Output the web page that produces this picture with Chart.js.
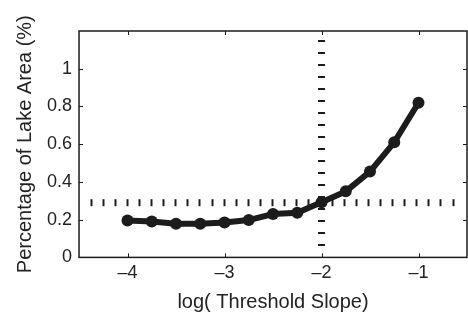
<!DOCTYPE html>
<html>
<head>
<meta charset="utf-8">
<script src="https://cdn.jsdelivr.net/npm/chart.js@4.4.1/dist/chart.umd.min.js"></script>
<style>
  html, body { margin: 0; padding: 0; background: #fff; }
  #wrap { width: 468px; height: 321px; position: relative; }
</style>
</head>
<body>
<div id="wrap"><canvas id="chart"></canvas></div>
<script>
// Data
const logSlope = [-4, -3.75, -3.5, -3.25, -3, -2.75, -2.5, -2.25, -2, -1.75, -1.5, -1.25, -1];
const lakeArea = [0.195, 0.19, 0.178, 0.178, 0.185, 0.198, 0.23, 0.237, 0.292, 0.35, 0.455, 0.61, 0.82];
const xTickValues = [-4, -3, -2, -1];
const yTickValues = [0, 0.2, 0.4, 0.6, 0.8, 1];
const thresholdSlope = -2;
const thresholdArea = 0.29;

const ink = "#1c1c1c";
const fontFamily = "Liberation Sans, Arial, Helvetica, sans-serif";

// Box, inward ticks and the two dashed reference lines (MATLAB style)
const framePlugin = {
    id: "frame",
    afterDatasetsDraw(chart) {
        const { ctx, chartArea: a, scales } = chart;
        const xs = scales.x, ys = scales.y;
        ctx.save();

        // reference lines
        ctx.strokeStyle = ink;
        ctx.lineWidth = 2;
        const hy = ys.getPixelForValue(thresholdArea);
        for (let px = a.left + 12; px < a.right - 6; px += 12.05) {
            ctx.beginPath();
            ctx.moveTo(Math.round(px) + 0.5, hy - 3.5);
            ctx.lineTo(Math.round(px) + 0.5, hy + 3.5);
            ctx.stroke();
        }
        const vx = xs.getPixelForValue(thresholdSlope);
        for (let py = a.bottom - 12; py > a.top + 6; py -= 12.05) {
            ctx.beginPath();
            ctx.moveTo(vx - 3.5, Math.round(py));
            ctx.lineTo(vx + 3.5, Math.round(py));
            ctx.stroke();
        }

        // box
        ctx.strokeStyle = ink;
        ctx.lineWidth = 1.5;
        ctx.strokeRect(a.left, a.top, a.right - a.left, a.bottom - a.top);

        // inward ticks
        ctx.lineWidth = 1;
        const len = 4;
        xTickValues.forEach(v => {
            const px = Math.round(xs.getPixelForValue(v)) + 0.5;
            ctx.beginPath();
            ctx.moveTo(px, a.bottom); ctx.lineTo(px, a.bottom - len);
            ctx.moveTo(px, a.top); ctx.lineTo(px, a.top + len);
            ctx.stroke();
        });
        yTickValues.forEach(v => {
            const py = Math.round(ys.getPixelForValue(v)) + 0.5;
            ctx.beginPath();
            ctx.moveTo(a.left, py); ctx.lineTo(a.left + len, py);
            ctx.moveTo(a.right, py); ctx.lineTo(a.right - len, py);
            ctx.stroke();
        });
        ctx.restore();
    }
};

const ctx = document.getElementById("chart").getContext("2d");
new Chart(ctx, {
    type: "line",
    data: {
        datasets: [{
            label: "Percentage of Lake Area",
            data: logSlope.map((x, i) => ({ x: x, y: lakeArea[i] })),
            borderColor: ink,
            backgroundColor: ink,
            borderWidth: 6,
            pointRadius: 6,
            pointBorderWidth: 0,
            tension: 0,
            fill: false
        }]
    },
    options: {
        responsive: true,
        maintainAspectRatio: false,
        animation: false,
        layout: { autoPadding: false, padding: { top: 31, right: 1, left: 0, bottom: 0 } },
        plugins: {
            legend: { display: false },
            tooltip: { enabled: false }
        },
        scales: {
            x: {
                type: "linear",
                min: -4.5,
                max: -0.5,
                afterBuildTicks: s => { s.ticks = xTickValues.map(v => ({ value: v })); },
                grid: { display: false, drawTicks: false },
                border: { display: false },
                ticks: {
                    color: "#222",
                    font: { family: fontFamily, size: 18 },
                    padding: 5,
                    maxRotation: 0,
                    callback: v => "\u2013" + Math.abs(v)
                },
                title: {
                    display: true,
                    text: "log( Threshold Slope)",
                    color: "#222",
                    font: { family: fontFamily, size: 20 },
                    padding: { top: 1, bottom: 7 }
                }
            },
            y: {
                min: 0,
                max: 1.2,
                afterBuildTicks: s => { s.ticks = yTickValues.map(v => ({ value: v })); },
                grid: { display: false, drawTicks: false },
                border: { display: false },
                ticks: {
                    color: "#222",
                    font: { family: fontFamily, size: 18 },
                    padding: 7,
                    callback: v => (v === 0 || v === 1) ? String(v) : v.toFixed(1)
                },
                title: {
                    display: true,
                    text: "Percentage of Lake Area (%)",
                    color: "#222",
                    font: { family: fontFamily, size: 20 },
                    padding: { top: 13, bottom: 3 }
                }
            }
        }
    },
    plugins: [framePlugin]
});
</script>
</body>
</html>
